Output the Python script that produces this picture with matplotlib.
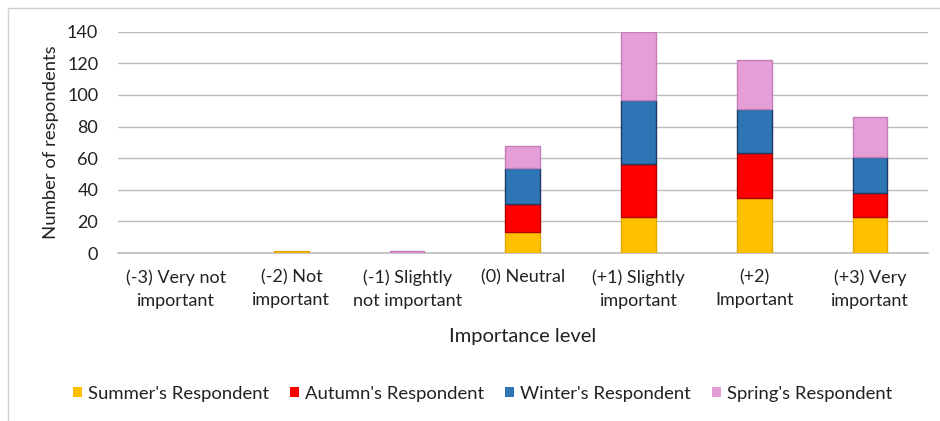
import numpy as np
import matplotlib.pyplot as plt
from matplotlib.patches import Rectangle

plt.rcParams['font.family'] = ['Lato', 'DejaVu Sans']

# -- data --
categories = ["(-3) Very not\nimportant", "(-2) Not\nimportant", "(-1) Slightly\nnot important",
              "(0) Neutral", "(+1) Slightly\nimportant", "(+2)\nImportant", "(+3) Very\nimportant"]
summer = [0, 1, 0, 13, 23, 35, 23]
autumn = [0, 0, 0, 18, 33, 28, 15]
winter = [0, 0, 0, 23, 41, 28, 23]
spring = [0, 0, 1, 14, 43, 31, 25]

series = [
    ("Summer's Respondent", summer, "#FFC000", "#E0A800"),
    ("Autumn's Respondent", autumn, "#FF0000", "#B00000"),
    ("Winter's Respondent", winter, "#2E75B6", "#1F3864"),
    ("Spring's Respondent", spring, "#E59FD6", "#C47DB8"),
]

fig = plt.figure(figsize=(9.4, 4.21), dpi=100)
ax = fig.add_axes([0.1252, 0.399, 0.862, 0.5257])

# chart border
fig.patches.append(Rectangle((8 / 940, -0.1), 1.1, 1 - 8 / 421 + 0.1, transform=fig.transFigure,
                             fill=False, edgecolor="#D0D0D0", linewidth=1))

x = np.arange(len(categories))
bottom = np.zeros(len(categories))
for name, vals, col, edge in series:
    vals = np.array(vals, dtype=float)
    # zero-height segments get no edge so they don't leave a line on the axis
    edges = [edge if v > 0 else "none" for v in vals]
    ax.bar(x, vals, width=0.3, bottom=bottom, color=col, edgecolor=edges, linewidth=1,
           label=name, zorder=3)
    bottom += vals

ax.set_xlim(-0.5, len(categories) - 0.5)
ax.set_ylim(0, 140)
ax.set_yticks(range(0, 141, 20))
ax.grid(axis="y", color="#BDBDBD", linewidth=1, zorder=0)
for s in ["top", "right", "left"]:
    ax.spines[s].set_visible(False)
ax.spines["bottom"].set_color("#BDBDBD")
ax.spines["bottom"].set_linewidth(1.2)
ax.tick_params(axis="both", length=0, labelsize=13, colors="#222222")
ax.tick_params(axis="y", pad=14)
ax.tick_params(axis="x", pad=12)
ax.set_xticks(x)
ax.set_xticklabels(categories, linespacing=1.5)
ax.set_ylabel("Number of respondents", fontsize=13.3, color="#222222", labelpad=6)
ax.set_xlabel("Importance level", fontsize=14.5, color="#222222", labelpad=14)

ax.legend(loc="center", bbox_to_anchor=(0.45, -0.635), ncol=4, frameon=False,
          fontsize=13.3, handlelength=0.5, handleheight=0.5, handletextpad=0.3,
          columnspacing=1.15, labelcolor="#222222")

plt.savefig("out.png", dpi=100)
